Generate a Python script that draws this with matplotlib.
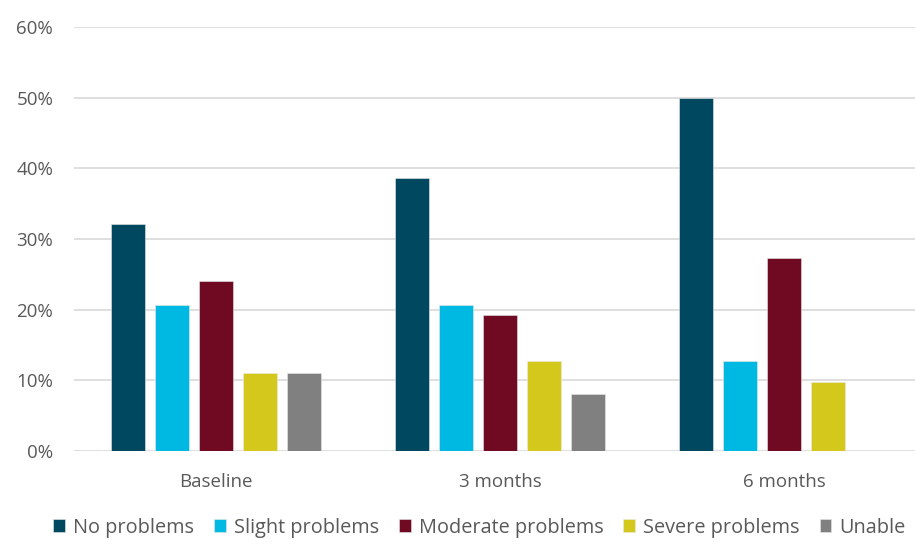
import matplotlib.pyplot as plt
import numpy as np
from matplotlib.ticker import PercentFormatter

# data
timepoints = ["Baseline", "3 months", "6 months"]
series = ["No problems", "Slight problems", "Moderate problems", "Severe problems", "Unable"]
no_problems = [32.1, 38.6, 50.0]
slight_problems = [20.7, 20.7, 12.8]
moderate_problems = [24.1, 19.3, 27.3]
severe_problems = [11.1, 12.8, 9.8]
unable = [11.1, 8.0, 0.0]
colors = ["#004860", "#00B9E2", "#700A22", "#D5C81D", "#808080"]

plt.rcParams['font.family'] = ['Open Sans', 'DejaVu Sans']

fig = plt.figure(figsize=(9.15, 5.44), dpi=100)
ax = fig.add_axes([74 / 915, 93 / 544, 852 / 915, 424 / 544])

x = np.arange(len(timepoints))
step = 0.155
width = 0.12
values = [no_problems, slight_problems, moderate_problems, severe_problems, unable]
handles = []
for i, (name, vals, c) in enumerate(zip(series, values, colors)):
    b = ax.bar(x + (i - 2) * step, vals, width, color=c, edgecolor="#e8e8e8",
               linewidth=0.4, label=name, zorder=3)
    handles.append(b)

ax.set_xlim(-0.5, 2.5)
ax.set_ylim(0, 60)
ax.set_yticks(np.arange(0, 61, 10))
ax.yaxis.set_major_formatter(PercentFormatter(decimals=0))
ax.set_xticks(x)
ax.set_xticklabels(timepoints)
ax.grid(axis="y", color="#d9d9d9", linewidth=1.2, zorder=0)
for s in ax.spines.values():
    s.set_visible(False)
ax.tick_params(axis="both", length=0, labelsize=13.5, labelcolor="#595959")
ax.tick_params(axis="y", pad=15)
ax.tick_params(axis="x", pad=16)

fig.legend(handles=handles, labels=series, loc="center", bbox_to_anchor=(0.524, 0.03),
           ncol=5, frameon=False, handlelength=0.6, handleheight=0.6, handletextpad=0.4,
           columnspacing=1.0, fontsize=14.3, labelcolor="#595959")

fig.savefig("out.png", dpi=100)
